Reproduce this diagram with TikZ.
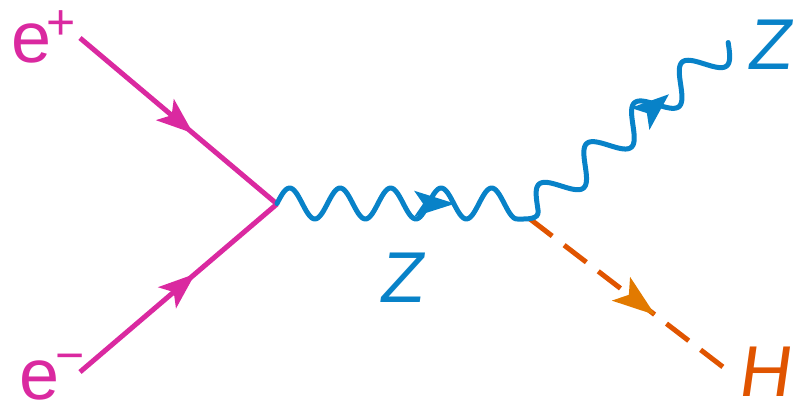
\documentclass[tikz,border=0pt]{standalone}
\usepackage{fontspec}
\setmainfont{Liberation Sans}
\newfontfamily\obliquesans[FakeSlant=0.14]{Liberation Sans}
\usetikzlibrary{arrows.meta,decorations.markings}
\definecolor{epink}{RGB}{218,41,160}
\definecolor{zblue}{RGB}{8,130,200}
\definecolor{horange}{RGB}{224,84,0}
\definecolor{harrow}{RGB}{226,122,0}
\tikzset{
  fermion/.style={draw=epink, line width=5pt},
  boson/.style={draw=zblue, line width=5pt, line cap=round, line join=round},
  scalar/.style={draw=horange, line width=5pt, dash pattern=on 28pt off 15pt},
  lbl/.style={inner sep=0pt, anchor=base west, font=\fontsize{72}{72}\selectfont},
  ilbl/.style={lbl, font=\fontsize{72}{72}\selectfont\obliquesans},
  midtip/.style n args={5}{postaction={decorate}, decoration={markings,
      mark=at position #1 with {\arrow[#2]{Stealth[length=#3pt,width=#4pt,inset=#5pt,line width=0pt]}}}},
}
\begin{document}
\begin{tikzpicture}[x=1pt,y=-1pt]
\useasboundingbox (0,0) rectangle (804,403);
% vertices and end points
\coordinate (ep) at (80,38);
\coordinate (em) at (80,372);
\coordinate (v1) at (277,204);
\coordinate (v2) at (530,219);
\coordinate (zax) at (530,203.5);
\coordinate (zax0) at (525.8,216.3);
\coordinate (zend) at (728.8,43.2);
\coordinate (hend) at (723,367);
% fermions
\draw[fermion, midtip={0.574}{epink}{37}{28}{9}] (ep) -- (v1);
\draw[fermion, midtip={0.584}{epink}{37}{28}{9}] (em) -- (v1);
% Higgs
\draw[scalar] (v2) -- (hend);
\path[midtip={0.648}{harrow}{43}{30}{10}] (v2) -- (hend);
% Z bosons
\draw[boson] plot[domain=0:4.75, samples=140, smooth] ({277+50.5*\x},{203.5-15.5*sin(360*\x)})
  .. controls (526.9,219) and (539.3,219.9) .. (538.1,210.7)
  -- plot[domain=-18:235.7, samples=170, smooth] ({549.4+0.761*\x-10.32*cos(5.7416*\x)},{196.2-0.649*\x-12.10*cos(5.7416*\x)});
\path[midtip={0.704}{zblue}{41}{26}{9}] (v1) -- (zax);
\path[midtip={0.705}{zblue}{38}{29}{9}] (zax0) -- (zend);
% labels
\node[lbl, text=epink] (lep) at (11,63) {e\kern-5pt\raisebox{23pt}{\fontsize{50}{50}\selectfont +}};
\node[lbl, text=epink] (lem) at (19,400) {e\kern-4pt\raisebox{28pt}{\fontsize{50}{50}\selectfont −}};
\node[ilbl, text=zblue] (lz1) at (378.5,303) {Z};
\node[ilbl, text=zblue] (lz2) at (746.5,70) {Z};
\node[ilbl, text=horange] (lh) at (737,397) {H};
\end{tikzpicture}
\end{document}
